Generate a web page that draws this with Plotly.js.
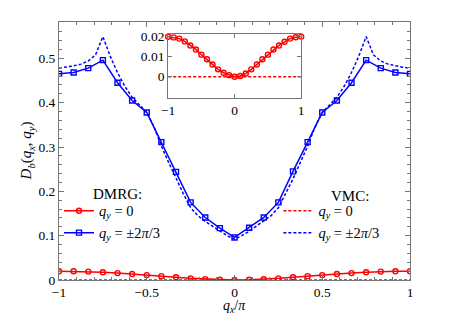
<!DOCTYPE html>
<html><head><meta charset="utf-8">
<script src="https://cdn.plot.ly/plotly-3.0.1.min.js"></script>
<style>html,body{margin:0;padding:0;background:#fff}</style>
</head><body>
<div id="chart" style="width:453px;height:318px"></div>
<script>
// DMRG grid (qx/pi)
const qx = [-1, -0.9167, -0.8333, -0.75, -0.6667, -0.5833, -0.5, -0.4167, -0.3333, -0.25, -0.1667, -0.0833, 0,
            0.0833, 0.1667, 0.25, 0.3333, 0.4167, 0.5, 0.5833, 0.6667, 0.75, 0.8333, 0.9167, 1];
const dmrgQy0 = [0.0199, 0.0196, 0.0190, 0.0176, 0.0156, 0.0136, 0.0110, 0.0087, 0.0061, 0.0037, 0.0020, 0.0008, 0.0000,
                 0.0004, 0.0016, 0.0037, 0.0061, 0.0087, 0.0110, 0.0136, 0.0156, 0.0174, 0.0190, 0.0197, 0.0200];
const dmrgQy23 = [0.465, 0.468, 0.478, 0.496, 0.445, 0.405, 0.378, 0.311, 0.244, 0.175, 0.141, 0.117, 0.096,
                  0.118, 0.141, 0.175, 0.245, 0.311, 0.378, 0.405, 0.445, 0.496, 0.478, 0.468, 0.465];
// VMC finer grid
const qxV = [-1, -0.9583, -0.9167, -0.875, -0.8333, -0.7917, -0.75, -0.7083, -0.6667, -0.625, -0.5833, -0.5417, -0.5,
             -0.4583, -0.4167, -0.375, -0.3333, -0.2917, -0.25, -0.2083, -0.1667, -0.125, -0.0833, -0.0417, 0,
             0.0417, 0.0833, 0.125, 0.1667, 0.2083, 0.25, 0.2917, 0.3333, 0.375, 0.4167, 0.4583, 0.5,
             0.5417, 0.5833, 0.625, 0.6667, 0.7083, 0.75, 0.7917, 0.8333, 0.875, 0.9167, 0.9583, 1];
const vmcQy0 = [0,0,0,0,0,0,0,0,0,0,0,0,0,0,0,0,0,0,0,0,0,0,0,0,0,0,0,0,0,0,0,0,0,0,0,0,0,0,0,0,0,0,0,0,0,0,0,0,0];
const vmcQy23 = [0.478, 0.480, 0.483, 0.487, 0.494, 0.508, 0.549, 0.505, 0.468, 0.437, 0.412, 0.395, 0.378,
                 0.345, 0.302, 0.265, 0.228, 0.195, 0.163, 0.145, 0.132, 0.121, 0.110, 0.100, 0.092,
                 0.100, 0.110, 0.121, 0.132, 0.145, 0.163, 0.195, 0.228, 0.265, 0.302, 0.345, 0.378,
                 0.395, 0.412, 0.437, 0.468, 0.505, 0.549, 0.508, 0.494, 0.487, 0.483, 0.480, 0.478];
const lab0 = '<i>q<sub>y</sub></i> = 0';
const lab23 = '<i>q<sub>y</sub></i> = ±2<i>π</i>/3';

const RED = '#ff0000', BLUE = '#0000ff';
const mk = (sym, c) => ({symbol: sym, size: 5, color: c, line: {width: 1.4, color: c}});
const traces = [
  {x: qx, y: dmrgQy0, type: 'scatter', mode: 'lines+markers', name: lab0, legend: 'legend',
   line: {color: RED, width: 1.5}, marker: mk('circle-open', RED)},
  {x: qx, y: dmrgQy23, type: 'scatter', mode: 'lines+markers', name: lab23, legend: 'legend',
   line: {color: BLUE, width: 1.5}, marker: mk('square-open', BLUE)},
  {x: qxV, y: vmcQy0, type: 'scatter', mode: 'lines', name: lab0, legend: 'legend2',
   line: {color: RED, width: 1.5, dash: '3px,2px'}},
  {x: qxV, y: vmcQy23, type: 'scatter', mode: 'lines', name: lab23, legend: 'legend2',
   line: {color: BLUE, width: 1.5, dash: '3px,2px'}},
  // inset
  {x: qxV, y: vmcQy0, xaxis: 'x2', yaxis: 'y2', type: 'scatter', mode: 'lines', showlegend: false,
   line: {color: RED, width: 1.5, dash: '3px,2px'}},
  {x: qx, y: dmrgQy0, xaxis: 'x2', yaxis: 'y2', type: 'scatter', mode: 'lines+markers', showlegend: false,
   line: {color: RED, width: 1.5}, marker: mk('circle-open', RED), cliponaxis: false}
];
const AX = '#777';
const FAM = 'Liberation Serif, Times New Roman, serif';
const tf = {family: FAM, size: 13.5, color: '#000'};
const lf = {family: FAM, size: 15, color: '#000'};
const legf = {family: FAM, size: 14.5, color: '#000'};
const layout = {
  width: 453, height: 318,
  margin: {l: 59, r: 43, t: 22, b: 38},
  paper_bgcolor: '#fff', plot_bgcolor: '#fff',
  font: tf,
  xaxis: {range: [-1, 1], domain: [0, 1], showline: true, mirror: 'ticks', linecolor: AX, linewidth: 1,
          ticks: 'inside', ticklen: 5, tickcolor: AX, tickvals: [-1, -0.5, 0, 0.5, 1], ticktext: ['−1', '−0.5', '0', '0.5', '1'],
          minor: {ticks: 'inside', dtick: 0.1, ticklen: 3, tickcolor: AX},
          showgrid: false, zeroline: false, tickfont: tf},
  yaxis: {range: [0, 0.582], domain: [0, 1], showline: true, mirror: 'ticks', linecolor: AX, linewidth: 1,
          ticks: 'inside', ticklen: 5, tickcolor: AX, tickvals: [0, 0.1, 0.2, 0.3, 0.4, 0.5],
          minor: {ticks: 'inside', dtick: 0.02, ticklen: 3, tickcolor: AX},
          showgrid: false, zeroline: false, tickfont: tf},
  xaxis2: {anchor: 'y2', domain: [0.311, 0.690], range: [-1, 1], showline: true, mirror: 'ticks', linecolor: AX,
           ticks: 'inside', ticklen: 4, tickcolor: AX, tickvals: [-1, 0, 1], ticktext: ['−1', '0', '1'],
           showgrid: false, zeroline: false, tickfont: tf},
  yaxis2: {anchor: 'x2', domain: [0.706, 0.952], range: [-0.0105, 0.0211], showline: true, mirror: 'ticks', linecolor: AX,
           ticks: 'inside', ticklen: 4, tickcolor: AX, tickvals: [0, 0.01, 0.02], ticktext: ['0', '0.01', '0.02'],
           showgrid: false, zeroline: false, tickfont: tf},
  legend: {x: 0.0, y: 0.33, xanchor: 'left', yanchor: 'top', bgcolor: 'rgba(0,0,0,0)',
           font: legf, tracegroupgap: 0, itemwidth: 30},
  legend2: {x: 0.625, y: 0.33, xanchor: 'left', yanchor: 'top', bgcolor: 'rgba(0,0,0,0)',
            font: legf, tracegroupgap: 0, itemwidth: 30},
  annotations: [
    {text: 'DMRG:', xref: 'paper', yref: 'paper', x: 0.168, y: 0.295, xanchor: 'center', yanchor: 'bottom', showarrow: false,
     font: lf},
    {text: 'VMC:', xref: 'paper', yref: 'paper', x: 0.829, y: 0.285, xanchor: 'center', yanchor: 'bottom', showarrow: false,
     font: lf},
    {text: '<i>q<sub>x</sub></i>/<i>π</i>', xref: 'paper', yref: 'paper', x: 0.5, y: 0, xanchor: 'center', yanchor: 'bottom',
     yshift: -37, showarrow: false, font: {family: FAM, size: 14, color: '#000'}},
    {text: '<i>D<sub>b</sub></i>(<i>q<sub>x</sub></i>, <i>q<sub>y</sub></i>)', xref: 'paper', yref: 'paper',
     x: -0.09, y: 0.5, xanchor: 'center', yanchor: 'middle', textangle: -90, showarrow: false, font: lf}
  ],
  showlegend: true
};
Plotly.newPlot('chart', traces, layout, {displayModeBar: false, staticPlot: true});
</script>
</body></html>
